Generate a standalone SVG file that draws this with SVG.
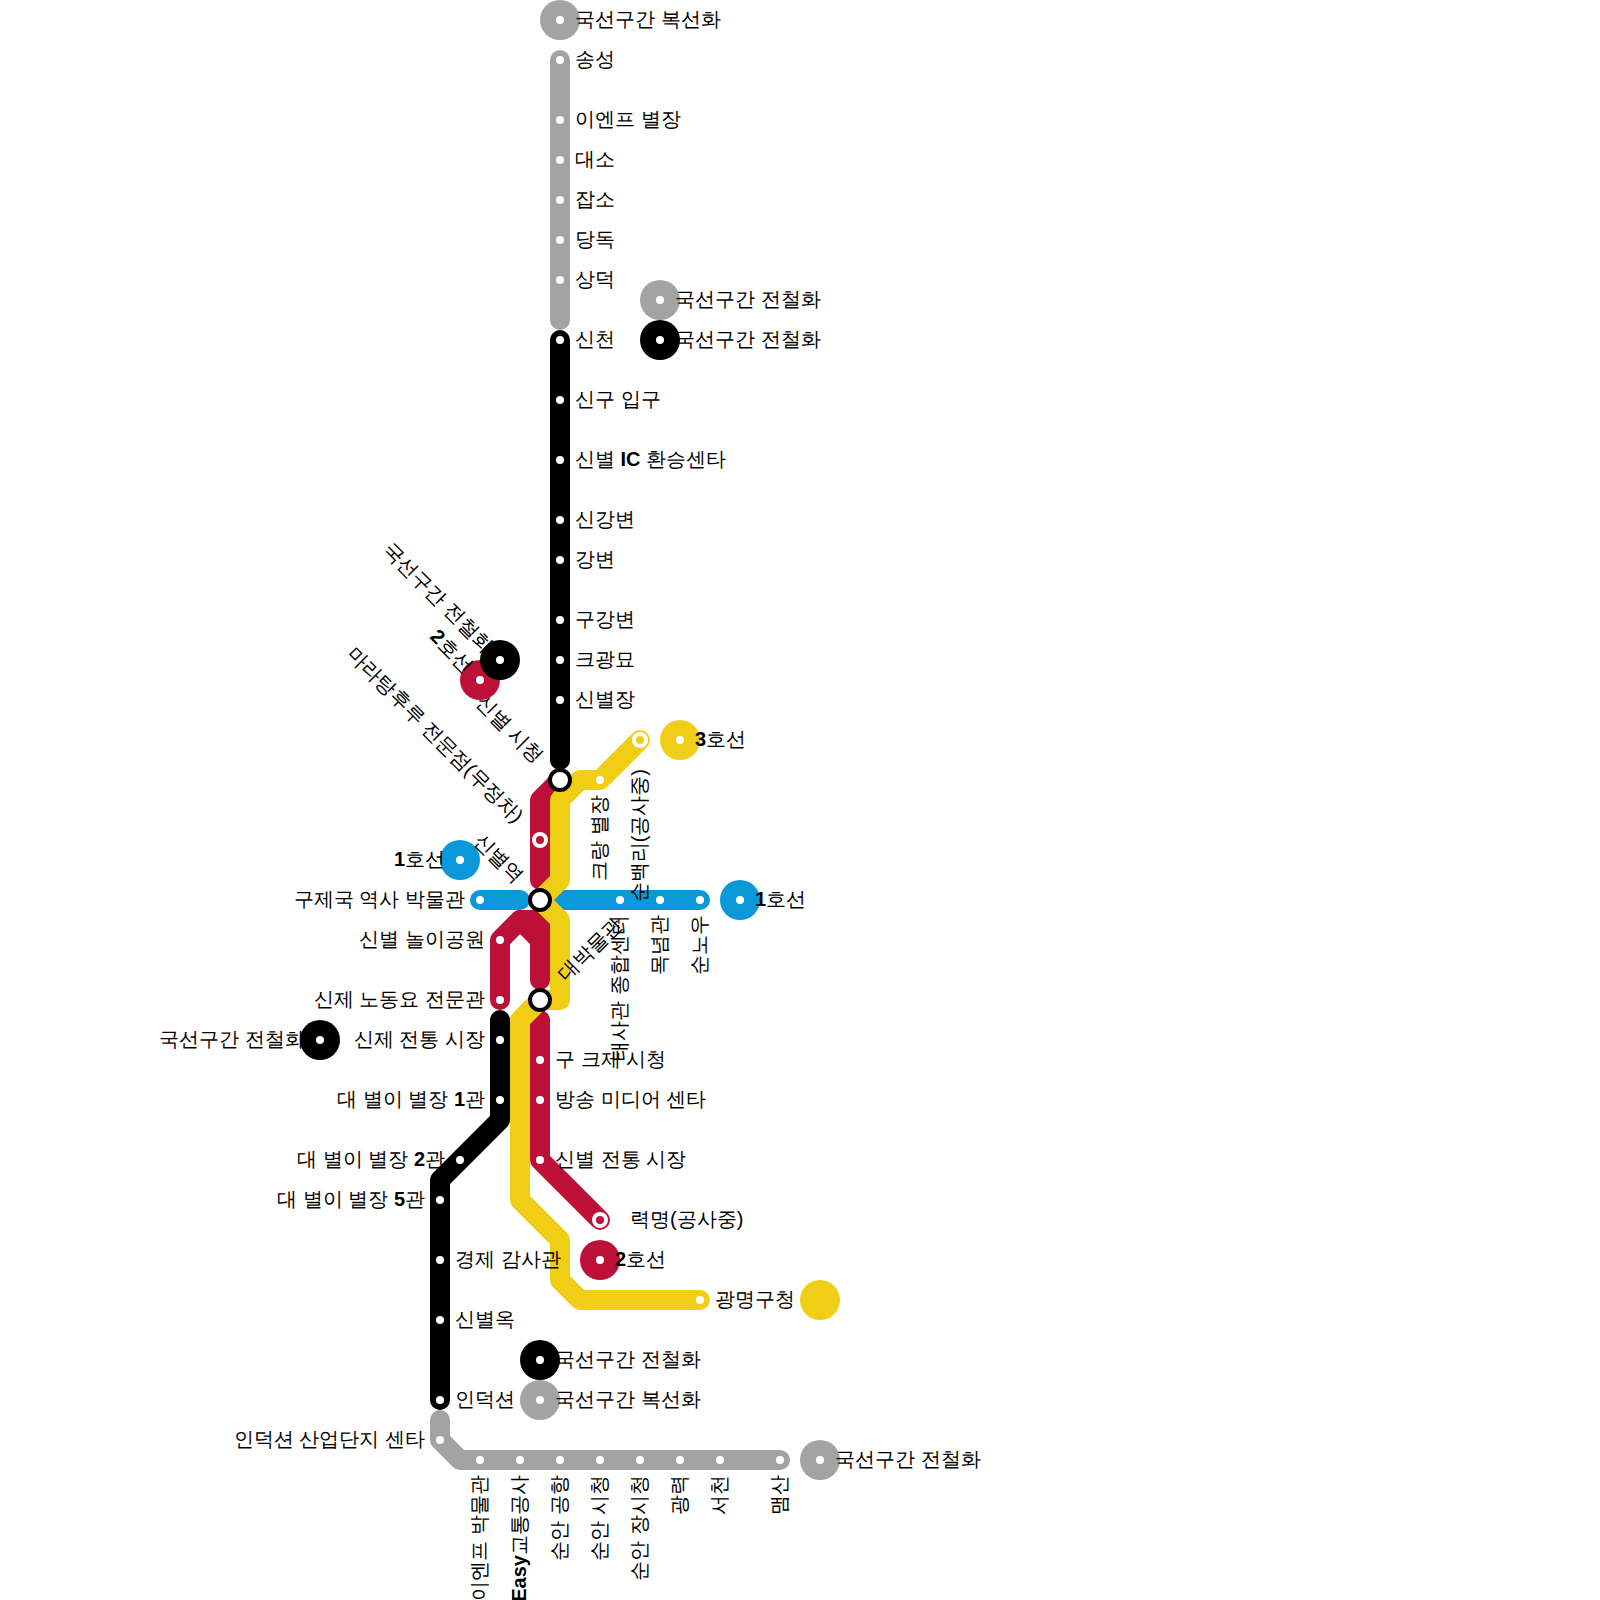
<svg xmlns="http://www.w3.org/2000/svg" width="1600" height="1600" viewBox="0 0 1600 1600">
<style>
text{font-family:"Liberation Sans",sans-serif;font-size:20px;fill:#000;dominant-baseline:middle}
.e{text-anchor:end}
tspan{font-weight:bold}
.l{fill:none;stroke-width:20;stroke-linecap:round;stroke-linejoin:round}
.gr{stroke:#a3a3a3}.bk{stroke:#000}.rd{stroke:#bd1038}.yl{stroke:#f0ce15}.bl{stroke:#0a98d9}
.d{fill:#fff}
.x{fill:#fff;stroke:#000;stroke-width:4}
.fgr{fill:#a3a3a3}.fbk{fill:#000}.frd{fill:#bd1038}.fyl{fill:#f0ce15}.fbl{fill:#0a98d9}
</style>
<defs>
<circle id="s" r="4" class="d"/>
<circle id="t" r="8" class="d"/>
<circle id="h" r="20"/>
</defs>
<g id="connectors">
<path class="l gr" d="M560 60V320"/>
<path class="l bk" d="M560 340V760"/>
<path class="l gr" d="M440 1420V1440L460 1460H780"/>
<path class="l bk" d="M500 1020V1120L440 1180V1400"/>
<path class="l rd" d="M560 780L540 800V880"/>
<path class="l rd" d="M500 1000V940L520 920H540V980"/>
<path class="l rd" d="M520 920L540 940"/>
<path class="l rd" d="M540 1020V1160L600 1220"/>
<path class="l bl" d="M480 900H520"/>
<path class="l bl" d="M560 900H700"/>
<path class="l yl" d="M640 740L600 780H580L560 800V880L540 900L560 920V1000H540L520 1020V1200L560 1240V1280L580 1300H700"/>
</g>
<g id="line-legends">
<g id="leg-top"><use href="#h" class="fgr" x="560" y="20"/><use href="#s" x="560" y="20"/><text dy="1" x="575" y="20">국선구간 복선화</text></g>
<g id="leg-gray2"><use href="#h" class="fgr" x="660" y="300"/><use href="#s" x="660" y="300"/><text dy="1" x="675" y="300">국선구간 전철화</text></g>
<g id="leg-black1"><use href="#h" class="fbk" x="660" y="340"/><use href="#s" x="660" y="340"/><text dy="1" x="675" y="340">국선구간 전철화</text></g>
<g id="leg-red1"><use href="#h" class="frd" x="480" y="680"/><use href="#s" x="480" y="680"/><text dy="1" class="e" transform="translate(469.4 669.4) rotate(45)"><tspan>2</tspan>호선</text></g>
<g id="leg-black2"><use href="#h" class="fbk" x="500" y="660"/><use href="#s" x="500" y="660"/><text dy="1" class="e" transform="translate(489.4 649.4) rotate(45)">국선구간 전철화</text></g>
<g id="leg-yellow1"><use href="#h" class="fyl" x="680" y="740"/><use href="#s" x="680" y="740"/><text dy="1" x="695" y="740"><tspan>3</tspan>호선</text></g>
<g id="leg-blue1"><use href="#h" class="fbl" x="460" y="860"/><use href="#s" x="460" y="860"/><text dy="1" class="e" x="445" y="860"><tspan>1</tspan>호선</text></g>
<g id="leg-blue2"><use href="#h" class="fbl" x="740" y="900"/><use href="#s" x="740" y="900"/><text dy="1" x="755" y="900"><tspan>1</tspan>호선</text></g>
<g id="leg-black3"><use href="#h" class="fbk" x="320" y="1040"/><use href="#s" x="320" y="1040"/><text dy="1" class="e" x="305" y="1040">국선구간 전철화</text></g>
<g id="leg-red2"><use href="#h" class="frd" x="600" y="1260"/><use href="#s" x="600" y="1260"/><text dy="1" x="615" y="1260"><tspan>2</tspan>호선</text></g>
<g id="leg-yellow2"><use href="#h" class="fyl" x="820" y="1300"/></g>
<g id="leg-black4"><use href="#h" class="fbk" x="540" y="1360"/><use href="#s" x="540" y="1360"/><text dy="1" x="555" y="1360">국선구간 전철화</text></g>
<g id="leg-gray3"><use href="#h" class="fgr" x="540" y="1400"/><use href="#s" x="540" y="1400"/><text dy="1" x="555" y="1400">국선구간 복선화</text></g>
<g id="leg-gray4"><use href="#h" class="fgr" x="820" y="1460"/><use href="#s" x="820" y="1460"/><text dy="1" x="835" y="1460">국선구간 전철화</text></g>
</g>
<g id="stations">
<g id="st-01"><use href="#s" x="560" y="60"/><text dy="1" x="575" y="60">송성</text></g>
<g id="st-02"><use href="#s" x="560" y="120"/><text dy="1" x="575" y="120">이엔프 별장</text></g>
<g id="st-03"><use href="#s" x="560" y="160"/><text dy="1" x="575" y="160">대소</text></g>
<g id="st-04"><use href="#s" x="560" y="200"/><text dy="1" x="575" y="200">잡소</text></g>
<g id="st-05"><use href="#s" x="560" y="240"/><text dy="1" x="575" y="240">당독</text></g>
<g id="st-06"><use href="#s" x="560" y="280"/><text dy="1" x="575" y="280">상덕</text></g>
<g id="st-07"><use href="#s" x="560" y="340"/><text dy="1" x="575" y="340">신천</text></g>
<g id="st-08"><use href="#s" x="560" y="400"/><text dy="1" x="575" y="400">신구 입구</text></g>
<g id="st-09"><use href="#s" x="560" y="460"/><text dy="1" x="575" y="460">신별 <tspan>IC</tspan> 환승센타</text></g>
<g id="st-10"><use href="#s" x="560" y="520"/><text dy="1" x="575" y="520">신강변</text></g>
<g id="st-11"><use href="#s" x="560" y="560"/><text dy="1" x="575" y="560">강변</text></g>
<g id="st-12"><use href="#s" x="560" y="620"/><text dy="1" x="575" y="620">구강변</text></g>
<g id="st-13"><use href="#s" x="560" y="660"/><text dy="1" x="575" y="660">크광묘</text></g>
<g id="st-14"><use href="#s" x="560" y="700"/><text dy="1" x="575" y="700">신별장</text></g>
<g id="st-15"><circle class="x" cx="560" cy="780" r="10"/><text dy="1" class="e" transform="translate(539.5 759.5) rotate(45)">신별 시청</text></g>
<g id="st-16"><use href="#t" x="640" y="740"/><circle class="fyl" cx="640" cy="740" r="4"/><text dy="1" class="e" transform="translate(640 769) rotate(-90)">순백리(공사중)</text></g>
<g id="st-17"><use href="#s" x="600" y="780"/><text dy="1" class="e" transform="translate(600 795) rotate(-90)">크랑 별장</text></g>
<g id="st-18"><use href="#t" x="540" y="840"/><circle class="frd" cx="540" cy="840" r="4"/><text dy="1" class="e" transform="translate(519.5 819.5) rotate(45)">마라탕후루 전문점(무정차)</text></g>
<g id="st-19"><circle class="x" cx="540" cy="900" r="10"/><text dy="1" class="e" transform="translate(519.5 879.5) rotate(45)">신별역</text></g>
<g id="st-20"><use href="#s" x="480" y="900"/><text dy="1" class="e" x="465" y="900">구제국 역사 박물관</text></g>
<g id="st-21"><use href="#s" x="620" y="900"/><text dy="1" class="e" transform="translate(620 915) rotate(-90)">태사관 종합센터</text></g>
<g id="st-22"><use href="#s" x="660" y="900"/><text dy="1" class="e" transform="translate(660 915) rotate(-90)">목념관</text></g>
<g id="st-23"><use href="#s" x="700" y="900"/><text dy="1" class="e" transform="translate(700 915) rotate(-90)">순노우</text></g>
<g id="st-24"><use href="#s" x="500" y="940"/><text dy="1" class="e" x="485" y="940">신별 놀이공원</text></g>
<g id="st-25"><use href="#s" x="500" y="1000"/><text dy="1" class="e" x="485" y="1000">신제 노동요 전문관</text></g>
<g id="st-26"><circle class="x" cx="540" cy="1000" r="10"/><text dy="1" transform="translate(562 978) rotate(-45)">대박물관</text></g>
<g id="st-27"><use href="#s" x="500" y="1040"/><text dy="1" class="e" x="485" y="1040">신제 전통 시장</text></g>
<g id="st-28"><use href="#s" x="500" y="1100"/><text dy="1" class="e" x="485" y="1100">대 별이 별장 <tspan>1</tspan>관</text></g>
<g id="st-29"><use href="#s" x="460" y="1160"/><text dy="1" class="e" x="445" y="1160">대 별이 별장 <tspan>2</tspan>관</text></g>
<g id="st-30"><use href="#s" x="440" y="1200"/><text dy="1" class="e" x="425" y="1200">대 별이 별장 <tspan>5</tspan>관</text></g>
<g id="st-31"><use href="#s" x="440" y="1260"/><text dy="1" x="455" y="1260">경제 감사관</text></g>
<g id="st-32"><use href="#s" x="440" y="1320"/><text dy="1" x="455" y="1320">신별옥</text></g>
<g id="st-33"><use href="#s" x="440" y="1400"/><text dy="1" x="455" y="1400">인덕션</text></g>
<g id="st-34"><use href="#s" x="440" y="1440"/><text dy="1" class="e" x="425" y="1440">인덕션 산업단지 센타</text></g>
<g id="st-35"><use href="#s" x="540" y="1060"/><text dy="1" x="555" y="1060">구 크제 시청</text></g>
<g id="st-36"><use href="#s" x="540" y="1100"/><text dy="1" x="555" y="1100">방송 미디어 센타</text></g>
<g id="st-37"><use href="#s" x="540" y="1160"/><text dy="1" x="555" y="1160">신별 전통 시장</text></g>
<g id="st-38"><use href="#t" x="600" y="1220"/><circle class="frd" cx="600" cy="1220" r="4"/><text dy="1" x="630" y="1220">력명(공사중)</text></g>
<g id="st-39"><use href="#s" x="700" y="1300"/><text dy="1" x="715" y="1300">광명구청</text></g>
<g id="st-40"><use href="#s" x="480" y="1460"/><text dy="1" class="e" transform="translate(480 1475) rotate(-90)">이엔프 박물관</text></g>
<g id="st-41"><use href="#s" x="520" y="1460"/><text dy="1" class="e" transform="translate(520 1475) rotate(-90)"><tspan>Easy</tspan>교통공사</text></g>
<g id="st-42"><use href="#s" x="560" y="1460"/><text dy="1" class="e" transform="translate(560 1475) rotate(-90)">순안 공항</text></g>
<g id="st-43"><use href="#s" x="600" y="1460"/><text dy="1" class="e" transform="translate(600 1475) rotate(-90)">순안 시청</text></g>
<g id="st-44"><use href="#s" x="640" y="1460"/><text dy="1" class="e" transform="translate(640 1475) rotate(-90)">순안 장시청</text></g>
<g id="st-45"><use href="#s" x="680" y="1460"/><text dy="1" class="e" transform="translate(680 1475) rotate(-90)">광력</text></g>
<g id="st-46"><use href="#s" x="720" y="1460"/><text dy="1" class="e" transform="translate(720 1475) rotate(-90)">서천</text></g>
<g id="st-47"><use href="#s" x="780" y="1460"/><text dy="1" class="e" transform="translate(780 1475) rotate(-90)">맴산</text></g>
</g>
</svg>
